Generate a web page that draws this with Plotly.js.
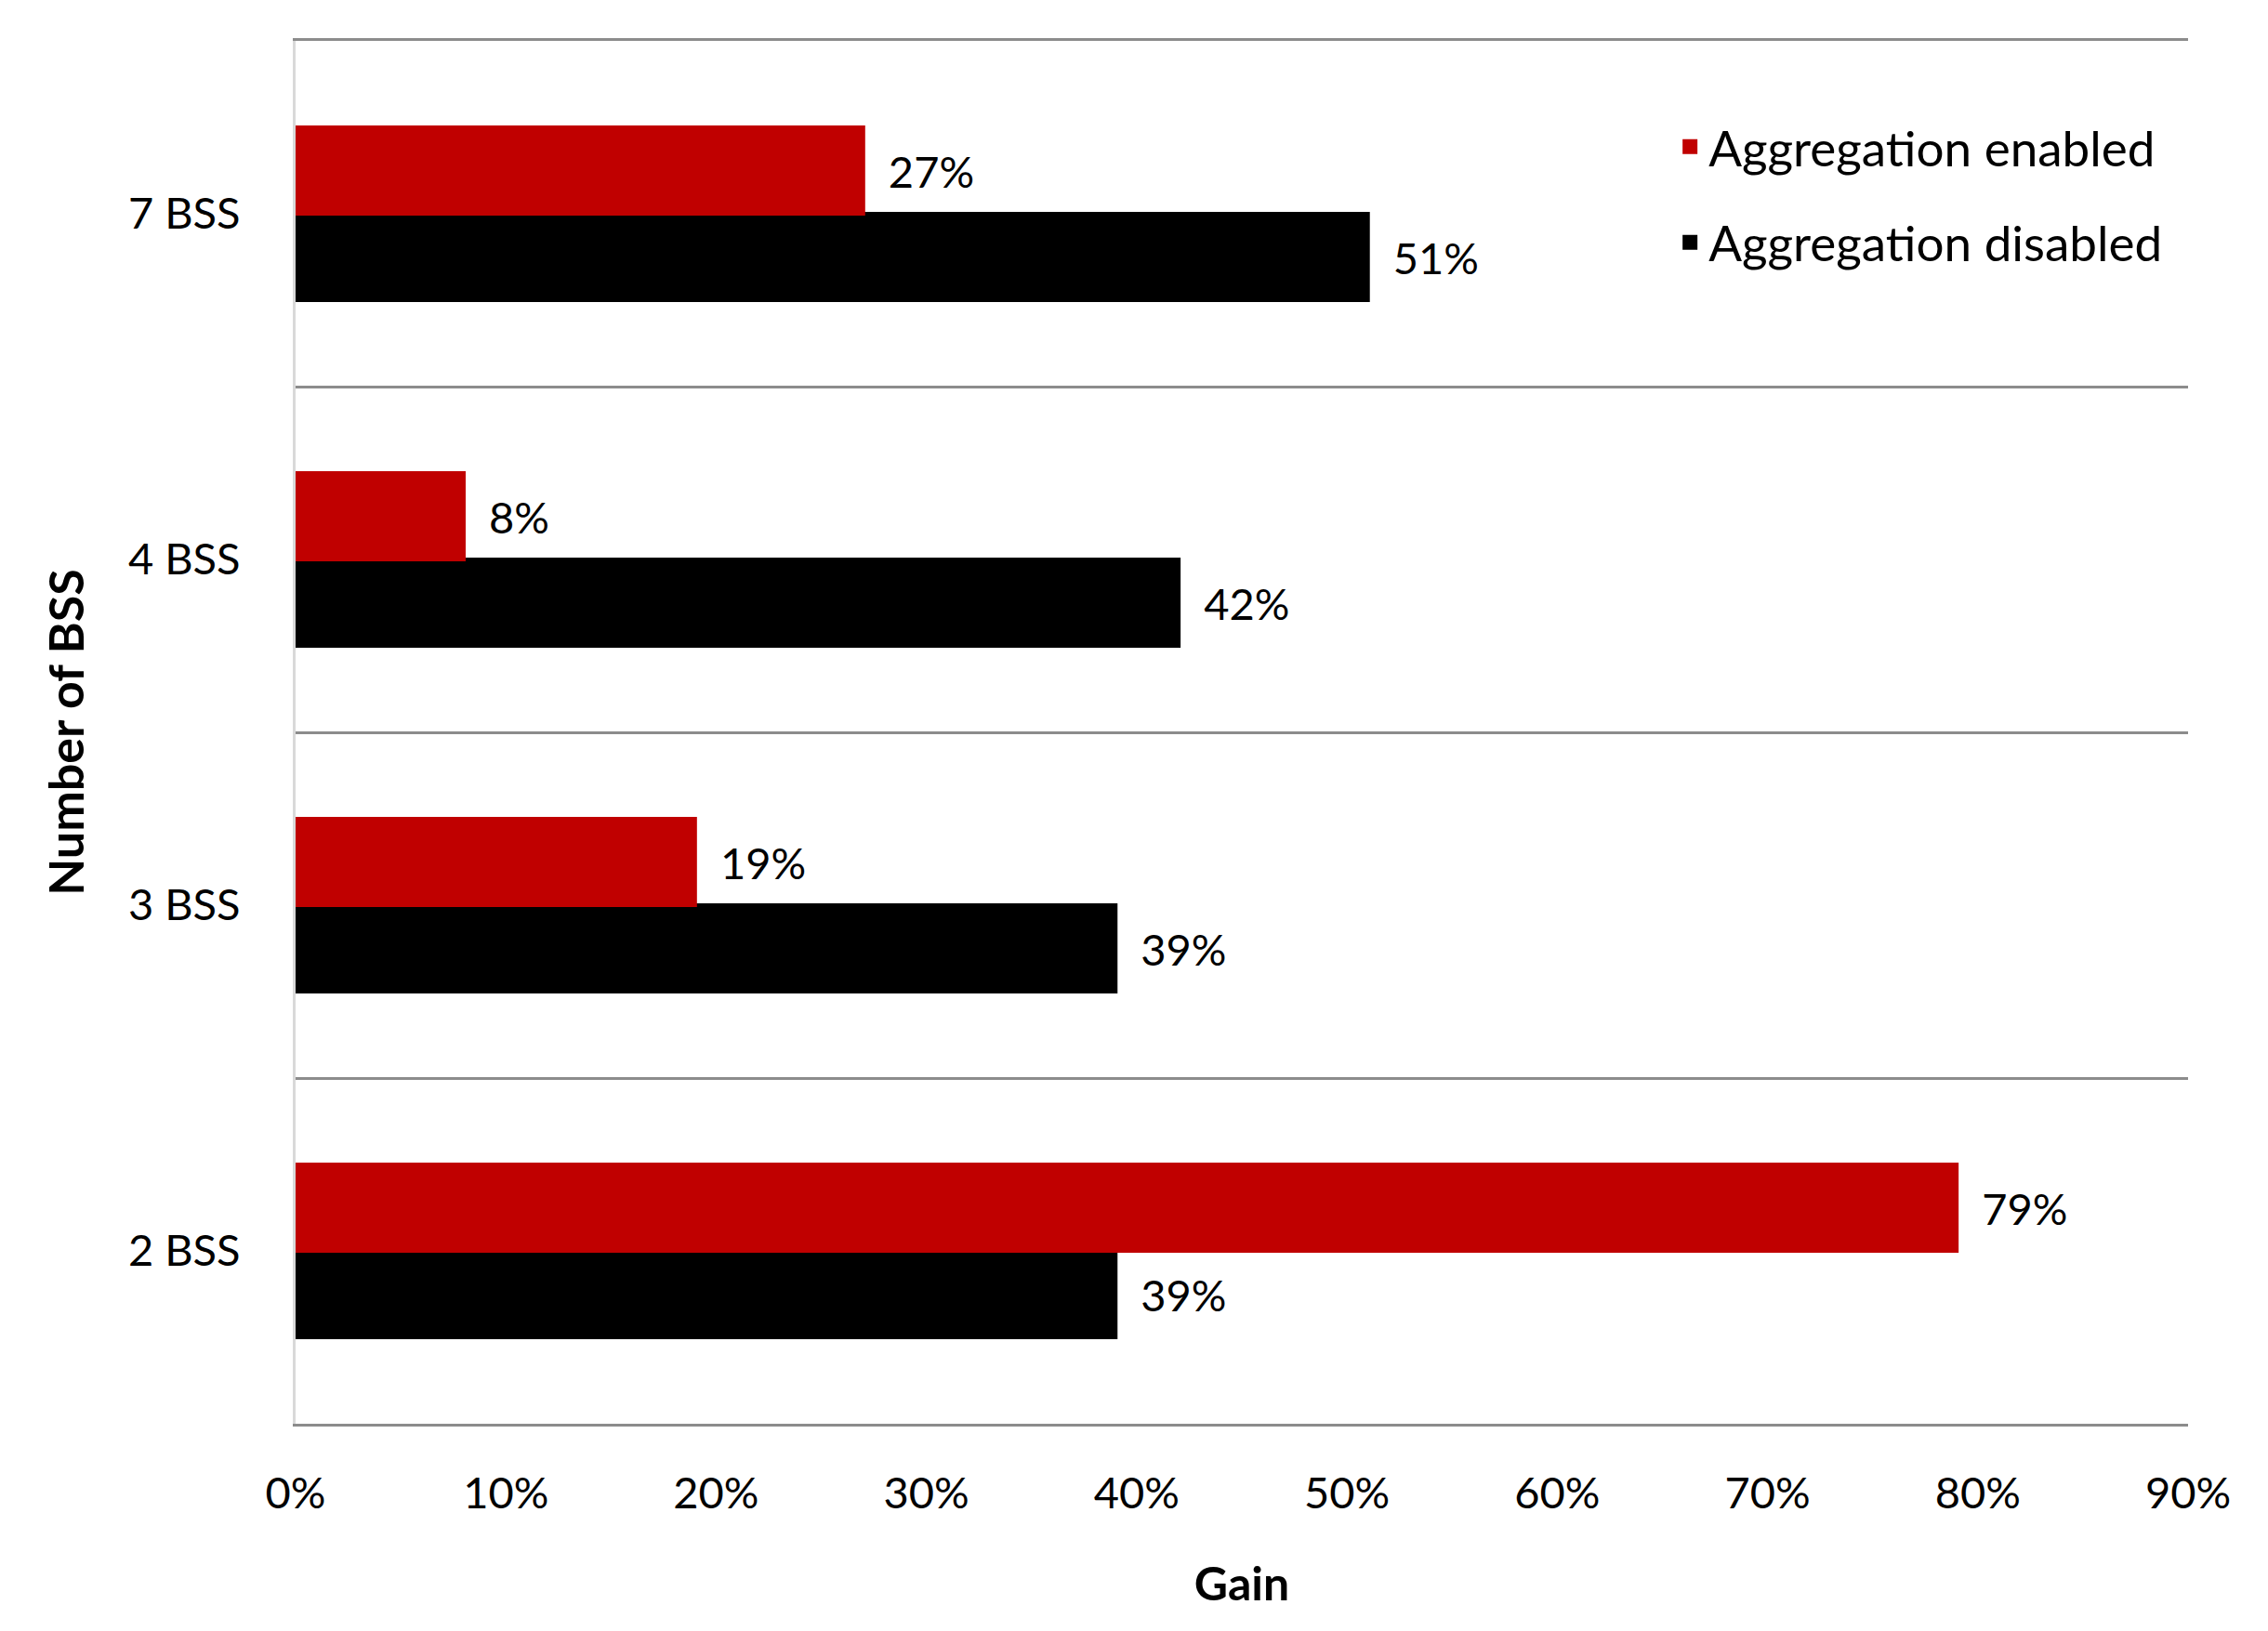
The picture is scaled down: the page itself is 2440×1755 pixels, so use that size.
<!DOCTYPE html>
<html>
<head>
<meta charset="utf-8">
<script src="https://cdn.plot.ly/plotly-3.0.1.min.js"></script>
<style>html,body{margin:0;padding:0;background:#fff;}#chart{width:2440px;height:1755px;}</style>
</head>
<body>
<div id="chart"></div>
<script>
// Data
const categories = ['2 BSS', '3 BSS', '4 BSS', '7 BSS'];
const gainEnabled = [79, 19, 8, 27];   // Aggregation enabled (%)
const gainDisabled = [39, 39, 42, 51]; // Aggregation disabled (%)
const xTickVals = [0, 10, 20, 30, 40, 50, 60, 70, 80, 90];
const xTickText = xTickVals.map(v => v + '%');
const seriesNames = ['Aggregation enabled', 'Aggregation disabled'];

const FONT = 'Lato, "Open Sans", sans-serif';
const labelFont = {family: FONT, size: 47, color: '#000'};

const traces = [
  {
    type: 'bar', orientation: 'h',
    name: seriesNames[1],
    y: categories, x: gainDisabled,
    marker: {color: '#000000', line: {color: '#000000', width: 4}},
    text: gainDisabled,
    texttemplate: '\u00a0\u00a0%{text}%',
    textposition: 'outside',
    textfont: labelFont,
    cliponaxis: false,
    legendgroup: 'd',
    legendrank: 2,
    hoverinfo: 'skip'
  },
  {
    type: 'bar', orientation: 'h',
    name: seriesNames[0],
    y: categories, x: gainEnabled,
    marker: {color: '#C00000', line: {color: '#C00000', width: 4}},
    text: gainEnabled,
    texttemplate: '\u00a0\u00a0%{text}%',
    textposition: 'outside',
    textfont: labelFont,
    cliponaxis: false,
    legendgroup: 'e',
    legendrank: 1,
    hoverinfo: 'skip'
  }
];

const layout = {
  width: 2440, height: 1755,
  margin: {l: 318, r: 86, t: 44, b: 223},
  paper_bgcolor: '#ffffff', plot_bgcolor: '#ffffff',
  barmode: 'group',
  bargap: 0.5,
  bargroupgap: 0,
  font: {family: FONT, size: 47, color: '#000'},
  showlegend: true,
  legend: {
    x: 0.727, xanchor: 'left',
    y: 0.951, yanchor: 'top',
    traceorder: 'grouped',
    tracegroupgap: 31,
    font: {family: FONT, size: 53, color: '#000'},
    bgcolor: 'rgba(0,0,0,0)'
  },
  xaxis: {
    range: [0, 90],
    tickvals: xTickVals,
    ticktext: xTickText,
    showgrid: false,
    zeroline: false,
    showline: true, mirror: true,
    linecolor: '#8c8c8c', linewidth: 3,
    ticks: '',
    ticklabelstandoff: 32,
    tickfont: {family: FONT, size: 47, color: '#000'},
    title: {text: 'Gain', font: {family: FONT, size: 50, color: '#000', weight: 'bold'}, standoff: 55}
  },
  yaxis: {
    type: 'category',
    categoryorder: 'array', categoryarray: categories,
    tickson: 'boundaries',
    showgrid: true, gridcolor: '#8c8c8c', gridwidth: 3,
    zeroline: false,
    showline: true, linecolor: '#d9d9d9', linewidth: 3,
    ticks: '',
    ticklabelstandoff: 47,
    tickfont: {family: FONT, size: 47, color: '#000'},
    title: {text: 'Number of BSS', font: {family: FONT, size: 52, color: '#000', weight: 'bold'}, standoff: 31}
  }
};

Plotly.newPlot('chart', traces, layout, {displayModeBar: false, staticPlot: true});
</script>
</body>
</html>
